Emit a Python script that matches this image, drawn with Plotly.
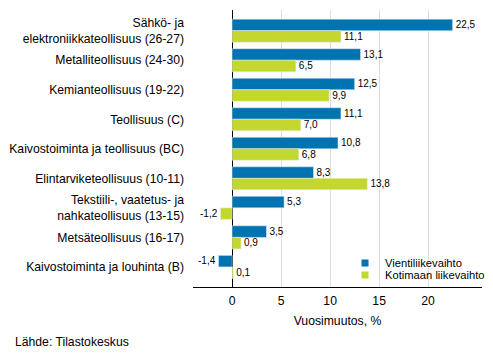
import plotly.graph_objects as go

categories = [
    "Sähkö- ja<br>elektroniikkateollisuus (26-27)",
    "Metalliteollisuus (24-30)",
    "Kemianteollisuus (19-22)",
    "Teollisuus (C)",
    "Kaivostoiminta ja teollisuus (BC)",
    "Elintarviketeollisuus (10-11)",
    "Tekstiili-, vaatetus- ja<br>nahkateollisuus (13-15)",
    "Metsäteollisuus (16-17)",
    "Kaivostoiminta ja louhinta (B)",
]
vienti = [22.5, 13.1, 12.5, 11.1, 10.8, 8.3, 5.3, 3.5, -1.4]
kotimaa = [11.1, 6.5, 9.9, 7.0, 6.8, 13.8, -1.2, 0.9, 0.1]
x_ticks = [0, 5, 10, 15, 20]
series_names = ["Vientiliikevaihto", "Kotimaan liikevaihto"]
series_colors = ["#0073B0", "#C3D72F"]

def fmt(v):
    return f"{v:.1f}".replace(".", ",")

font = "Liberation Sans, Arial, sans-serif"
fs = 12.2
fig = go.Figure()
for vals, name, col in zip([vienti, kotimaa], series_names, series_colors):
    fig.add_trace(go.Bar(
        y=categories, x=vals, orientation="h", name=name, showlegend=False,
        marker=dict(color=col), text=[fmt(v) for v in vals],
        textposition="outside", cliponaxis=False,
        textfont=dict(size=fs, color="#000000", family=font),
    ))
# legend entries with small square markers, one legend each for tight spacing
legend_ids = ["legend", "legend2"]
legend_y = [0.0866, 0.0433]
for name, col, lid in zip(series_names, series_colors, legend_ids):
    fig.add_trace(go.Scatter(
        x=[None], y=[None], mode="markers", name=name, legend=lid,
        marker=dict(symbol="square", size=7, color=col),
    ))
leg_common = dict(x=0.526, xanchor="left", yanchor="middle",
                  bgcolor="rgba(0,0,0,0)", font=dict(size=11.2),
                  itemwidth=30, itemsizing="trace")
fig.update_layout(
    width=493, height=360,
    margin=dict(l=193, r=11, t=10, b=73, autoexpand=False),
    barmode="group", bargap=0.22, bargroupgap=0.0,
    plot_bgcolor="white", paper_bgcolor="white",
    font=dict(family=font, size=fs, color="#000000"),
    showlegend=True,
    legend=dict(y=legend_y[0], **leg_common),
    legend2=dict(y=legend_y[1], **leg_common),
    xaxis=dict(range=[-4, 25.5], tickvals=x_ticks, ticktext=[str(t) for t in x_ticks],
               showgrid=True, gridcolor="#DDDDDD", gridwidth=1,
               zeroline=True, zerolinecolor="#000000", zerolinewidth=1,
               showline=True, linecolor="#000000", linewidth=1,
               ticks="", ticklabelstandoff=2, automargin=False,
               title=dict(text="Vuosimuutos, %", standoff=9,
                          font=dict(size=fs))),
    yaxis=dict(range=[8.68, -0.7], showgrid=False, ticks="",
               ticklabelstandoff=8, showline=False, automargin=False),
    annotations=[dict(text="Lähde: Tilastokeskus", xref="paper", yref="paper",
                      x=-180/289, y=-55/277, xanchor="left", yanchor="middle",
                      showarrow=False, font=dict(size=fs))],
)
fig.write_html("out.html", config={"displayModeBar": False},
               post_script="document.body.style.margin='0';")
